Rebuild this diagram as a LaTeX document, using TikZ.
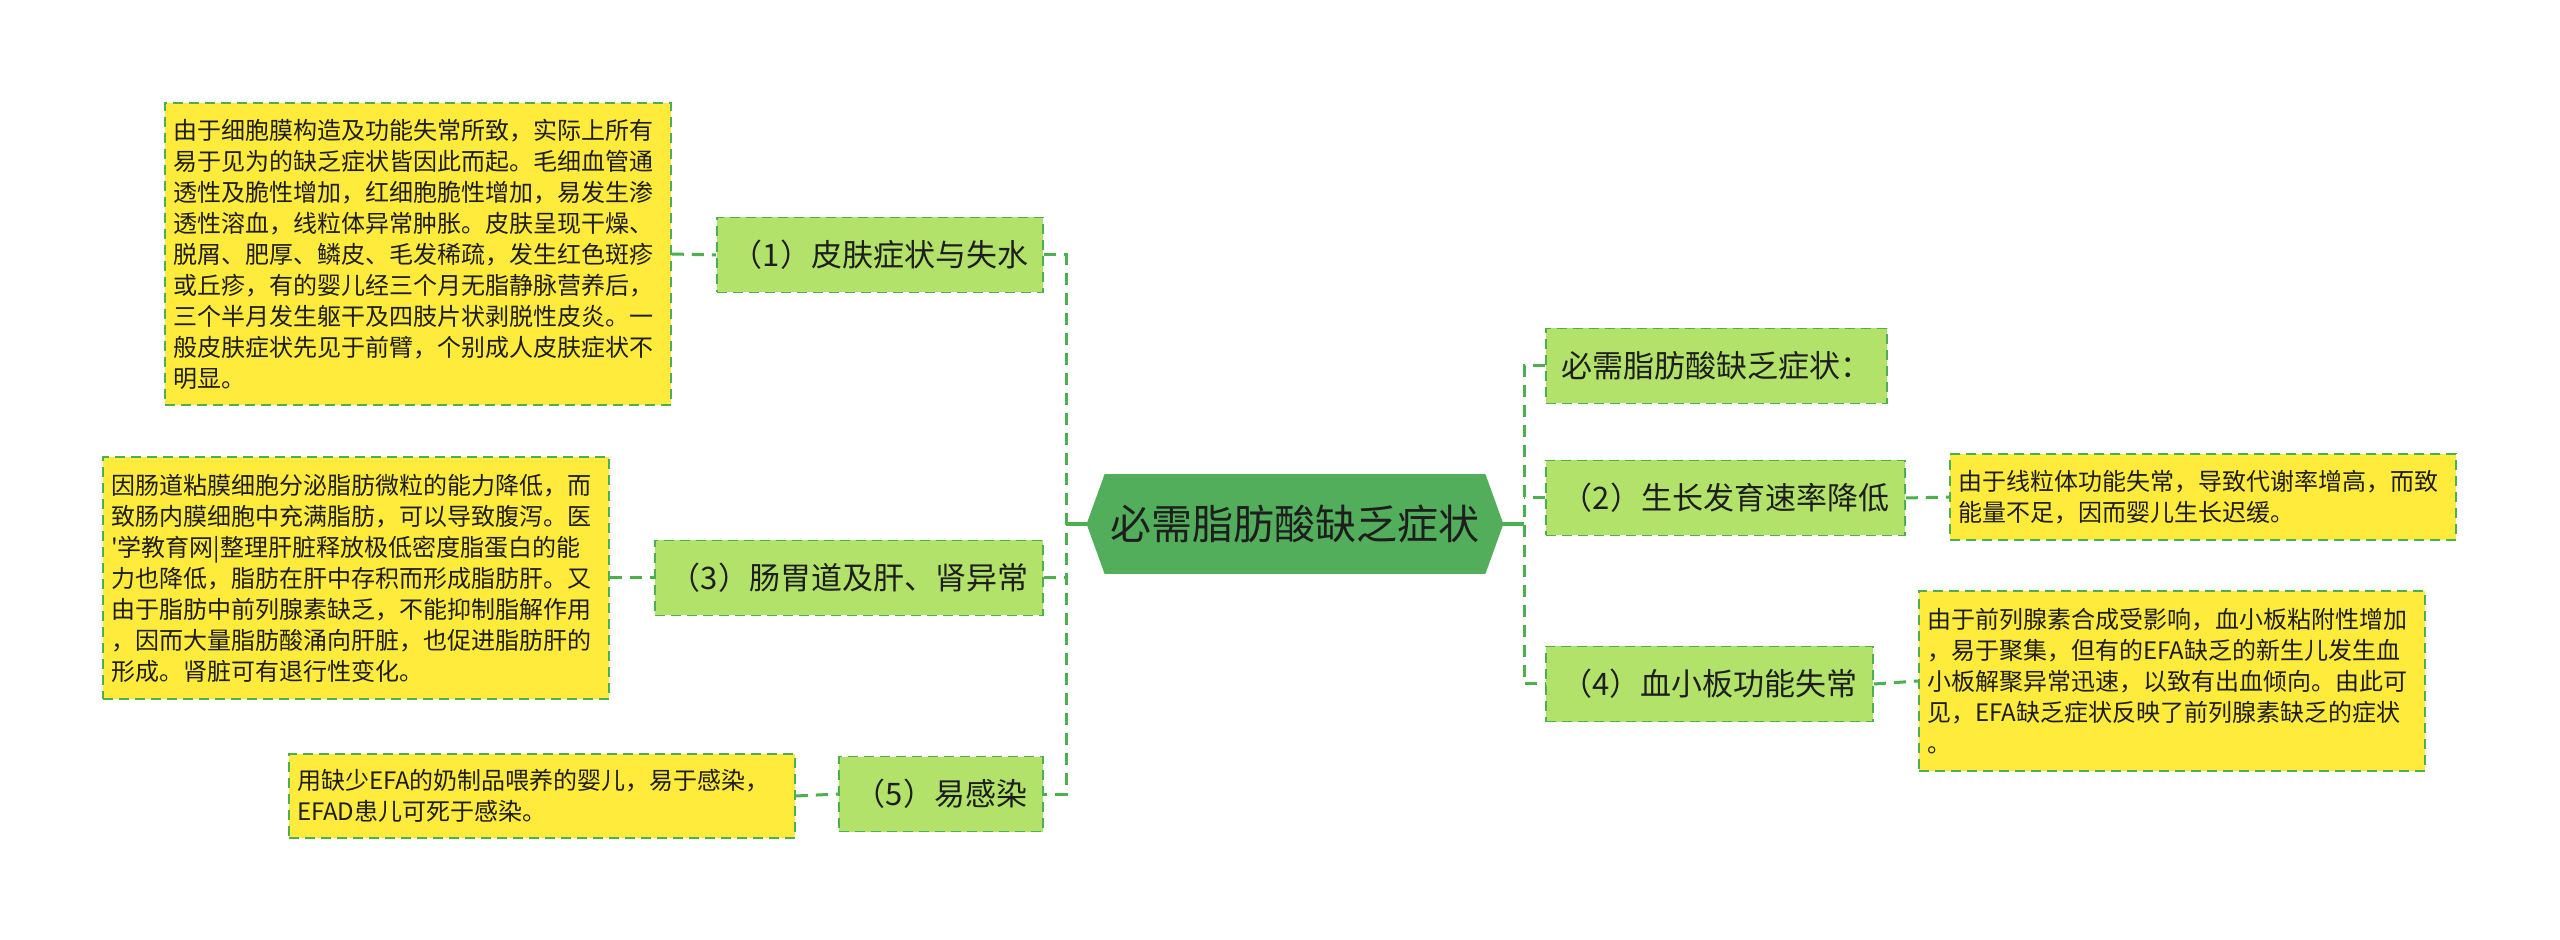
\documentclass[tikz,border=0pt]{standalone}
\usepackage{fontspec}
\setmainfont{Noto Sans CJK SC}[Ligatures=TeXOff]
\usetikzlibrary{backgrounds}
\definecolor{cgreen}{HTML}{52AE5B}
\definecolor{lgreen}{HTML}{B2E26A}
\definecolor{dgreen}{HTML}{4CAF50}
\definecolor{yel}{HTML}{FFEB3B}
\definecolor{txt}{HTML}{1E1E1E}
\begin{document}
\begin{tikzpicture}[x=0.5pt,y=-0.5pt,
  lvl/.style={draw=dgreen, fill=lgreen, dash pattern=on 5pt off 3pt, line width=0.9pt,
    minimum height=37.5pt, inner sep=0pt, font=\fontsize{15.5}{18}\selectfont, text=txt},
  leaf/.style={draw=dgreen, fill=yel, dash pattern=on 5pt off 3pt, line width=0.9pt,
    text width=245pt, minimum width=253pt, align=left, inner xsep=4pt, inner ysep=2pt,
    font=\fontsize{12}{15.5}\selectfont, text=txt},
  conn/.style={draw=dgreen, line width=1.5pt, dash pattern=on 6pt off 4pt},
  solidc/.style={draw=dgreen, line width=1.6pt}]
\path[use as bounding box] (0,0) rectangle (2560,940);

% central
\node[inner sep=0pt, minimum width=208pt, minimum height=49.5pt,
  font=\fontsize{20.5}{24}\selectfont, text=txt] (c) at (1295,524) {必需脂肪酸缺乏症状};
\begin{scope}[on background layer]
\fill[cgreen] (c.west) -- ([xshift=9pt]c.north west) -- ([xshift=-9pt]c.north east)
  -- (c.east) -- ([xshift=-9pt]c.south east) -- ([xshift=9pt]c.south west) -- cycle;
\end{scope}

% left level 1
\node[lvl, minimum width=163pt] (n1) at (880,255) {（1）皮肤症状与失水};
\node[lvl, minimum width=194pt] (n3) at (849,578) {（3）肠胃道及肝、肾异常};
\node[lvl, minimum width=102pt] (n5) at (941,794) {（5）易感染};

% right level 1
\node[lvl, minimum width=170.5pt] (r0) at (1716.5,366) {必需脂肪酸缺乏症状：};
\node[lvl, minimum width=179.5pt] (n2) at (1725.5,498) {（2）生长发育速率降低};
\node[lvl, minimum width=163.5pt] (n4) at (1709.5,684) {（4）血小板功能失常};

% leaves
\node[leaf, minimum height=151pt] (b1) at (418,254) {由于细胞膜构造及功能失常所致，实际上所有\\易于见为的缺乏症状皆因此而起。毛细血管通\\透性及脆性增加，红细胞脆性增加，易发生渗\\透性溶血，线粒体异常肿胀。皮肤呈现干燥、\\脱屑、肥厚、鳞皮、毛发稀疏，发生红色斑疹\\或丘疹，有的婴儿经三个月无脂静脉营养后，\\三个半月发生躯干及四肢片状剥脱性皮炎。一\\般皮肤症状先见于前臂，个别成人皮肤症状不\\明显。};
\node[leaf, minimum height=121pt] (b3) at (356,578) {因肠道粘膜细胞分泌脂肪微粒的能力降低，而\\致肠内膜细胞中充满脂肪，可以导致腹泻。医\\'学教育网|整理肝脏释放极低密度脂蛋白的能\\力也降低，脂肪在肝中存积而形成脂肪肝。又\\由于脂肪中前列腺素缺乏，不能抑制脂解作用\\，因而大量脂肪酸涌向肝脏，也促进脂肪肝的\\形成。肾脏可有退行性变化。};
\node[leaf, minimum height=42pt] (b5) at (542,796) {用缺少EFA的奶制品喂养的婴儿，易于感染，\\EFAD患儿可死于感染。};
\node[leaf, minimum height=43pt] (b2) at (2203,497) {由于线粒体功能失常，导致代谢率增高，而致\\能量不足，因而婴儿生长迟缓。};
\node[leaf, minimum height=90pt] (b4) at (2172,681) {由于前列腺素合成受影响，血小板粘附性增加\\，易于聚集，但有的EFA缺乏的新生儿发生血\\小板解聚异常迅速，以致有出血倾向。由此可\\见，EFA缺乏症状反映了前列腺素缺乏的症状\\。};

% connectors
\coordinate (cl) at (1066,524);
\coordinate (cr) at (1524,524);
\begin{scope}[on background layer]
\draw[solidc] (c.west) -- (cl);
\draw[solidc] (c.east) -- (cr);
\draw[conn] (n1.east) -- (cl|-n1.east) -- (cl|-n5.east) -- (n5.east);
\draw[conn] (n3.east) -- (cl|-n3.east);
\draw[conn] (r0.west) -- (cr|-r0.west) -- (cr|-n4.west) -- (n4.west);
\draw[conn] (n2.west) -- (cr|-n2.west);
\draw[conn] (b1.east) -- (n1.west);
\draw[conn] (b3.east) -- (n3.west);
\draw[conn] (b5.east) -- (n5.west);
\draw[conn] (n2.east) -- (b2.west);
\draw[conn] (n4.east) -- (b4.west);
\end{scope}
\end{tikzpicture}
\end{document}
